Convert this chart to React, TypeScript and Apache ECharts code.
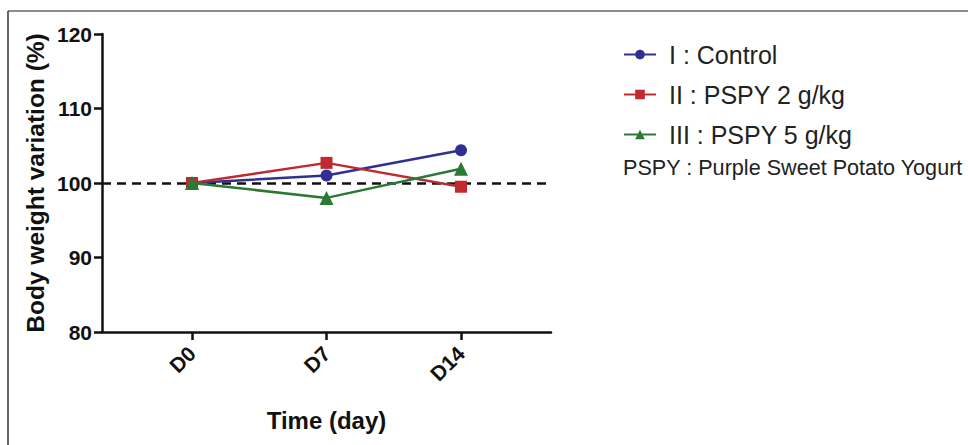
import React, { useEffect, useRef } from "react";
import * as echarts from "echarts";

const categories = ["D0", "D7", "D14"];
const seriesNames = ["I : Control", "II : PSPY 2 g/kg", "III : PSPY 5 g/kg"];
const controlValues = [100, 101.0, 104.4];
const pspy2Values = [100, 102.7, 99.5];
const pspy5Values = [100, 98.0, 101.9];
const seriesColors = ["#2E3192", "#BE2A2D", "#2A7A36"];
const seriesSymbols = ["circle", "rect", "triangle"];
const yTicks = { min: 80, max: 120, interval: 10 };
const referenceValue = 100;
const noteText = "PSPY : Purple Sweet Potato Yogurt";

const FONT = "'Liberation Sans', Arial, Helvetica, sans-serif";

export default function App() {
  const ref = useRef<HTMLDivElement>(null);

  useEffect(() => {
    document.body.style.margin = "0";
    if (!ref.current) return;
    const chart = echarts.init(ref.current, undefined, { renderer: "svg" });
    const allValues = [controlValues, pspy2Values, pspy5Values];
    const idx = categories.map((_, i) => i);

    const series: any[] = allValues.map((vals, s) => ({
      name: seriesNames[s],
      type: "line",
      data: vals.map((v, i) => [i, v]),
      symbol: seriesSymbols[s],
      symbolSize: s === 2 ? 14 : 12,
      itemStyle: { color: seriesColors[s] },
      lineStyle: { color: seriesColors[s], width: 2.5 },
      z: 3 + s,
    }));
    series[0].markLine = {
      silent: true,
      symbol: "none",
      label: { show: false },
      lineStyle: { color: "#111", type: [9, 6], width: 2.5 },
      data: [{ yAxis: referenceValue }],
      z: 1,
    };

    chart.setOption({
      animation: false,
      backgroundColor: "#fff",
      grid: { left: 102, right: 417, top: 34, bottom: 113, containLabel: false },
      legend: {
        orient: "vertical",
        left: 618,
        top: 37,
        itemWidth: 32,
        itemHeight: 12,
        itemGap: 15,
        data: seriesNames,
        textStyle: {
          fontFamily: FONT,
          fontSize: 25,
          color: "#222",
          padding: [0, 0, 0, 8],
        },
      },
      xAxis: {
        type: "value",
        min: -0.669,
        max: 2.669,
        splitLine: { show: false },
        axisLine: { show: true, onZero: false, lineStyle: { color: "#111", width: 2.5 } },
        axisTick: {
          show: true,
          customValues: idx,
          length: 8,
          lineStyle: { color: "#111", width: 2.5 },
        },
        axisLabel: {
          customValues: idx,
          formatter: (v: number) => categories[Math.round(v)] ?? "",
          rotate: 45,
          margin: 18,
          fontFamily: FONT,
          fontWeight: "bold",
          fontSize: 21,
          color: "#111",
        },
        name: "Time (day)",
        nameLocation: "middle",
        nameGap: 76,
        nameTextStyle: {
          fontFamily: FONT,
          fontWeight: "bold",
          fontSize: 24,
          color: "#111",
        },
      },
      yAxis: {
        type: "value",
        min: yTicks.min,
        max: yTicks.max,
        interval: yTicks.interval,
        splitLine: { show: false },
        axisLine: { show: true, onZero: false, lineStyle: { color: "#111", width: 2.5 } },
        axisTick: { show: true, length: 8, lineStyle: { color: "#111", width: 2.5 } },
        axisLabel: {
          margin: 10,
          fontFamily: FONT,
          fontWeight: "bold",
          fontSize: 21,
          color: "#111",
        },
        name: "Body weight variation (%)",
        nameLocation: "middle",
        nameGap: 54,
        nameTextStyle: {
          fontFamily: FONT,
          fontWeight: "bold",
          fontSize: 24.5,
          color: "#111",
        },
      },
      graphic: [
        {
          type: "line",
          shape: { x1: 8, y1: 11, x2: 968, y2: 11 },
          style: { stroke: "#666", lineWidth: 1.5 },
        },
        {
          type: "line",
          shape: { x1: 8, y1: 11, x2: 8, y2: 445 },
          style: { stroke: "#333", lineWidth: 1.5 },
        },
        {
          type: "text",
          x: 623,
          y: 167,
          style: {
            text: noteText,
            fontFamily: FONT,
            fontSize: 21.6,
            fill: "#222",
            verticalAlign: "middle",
            align: "left",
          },
        },
      ],
      series,
    });

    return () => chart.dispose();
  }, []);

  return <div ref={ref} style={{ width: 968, height: 445 }} />;
}
